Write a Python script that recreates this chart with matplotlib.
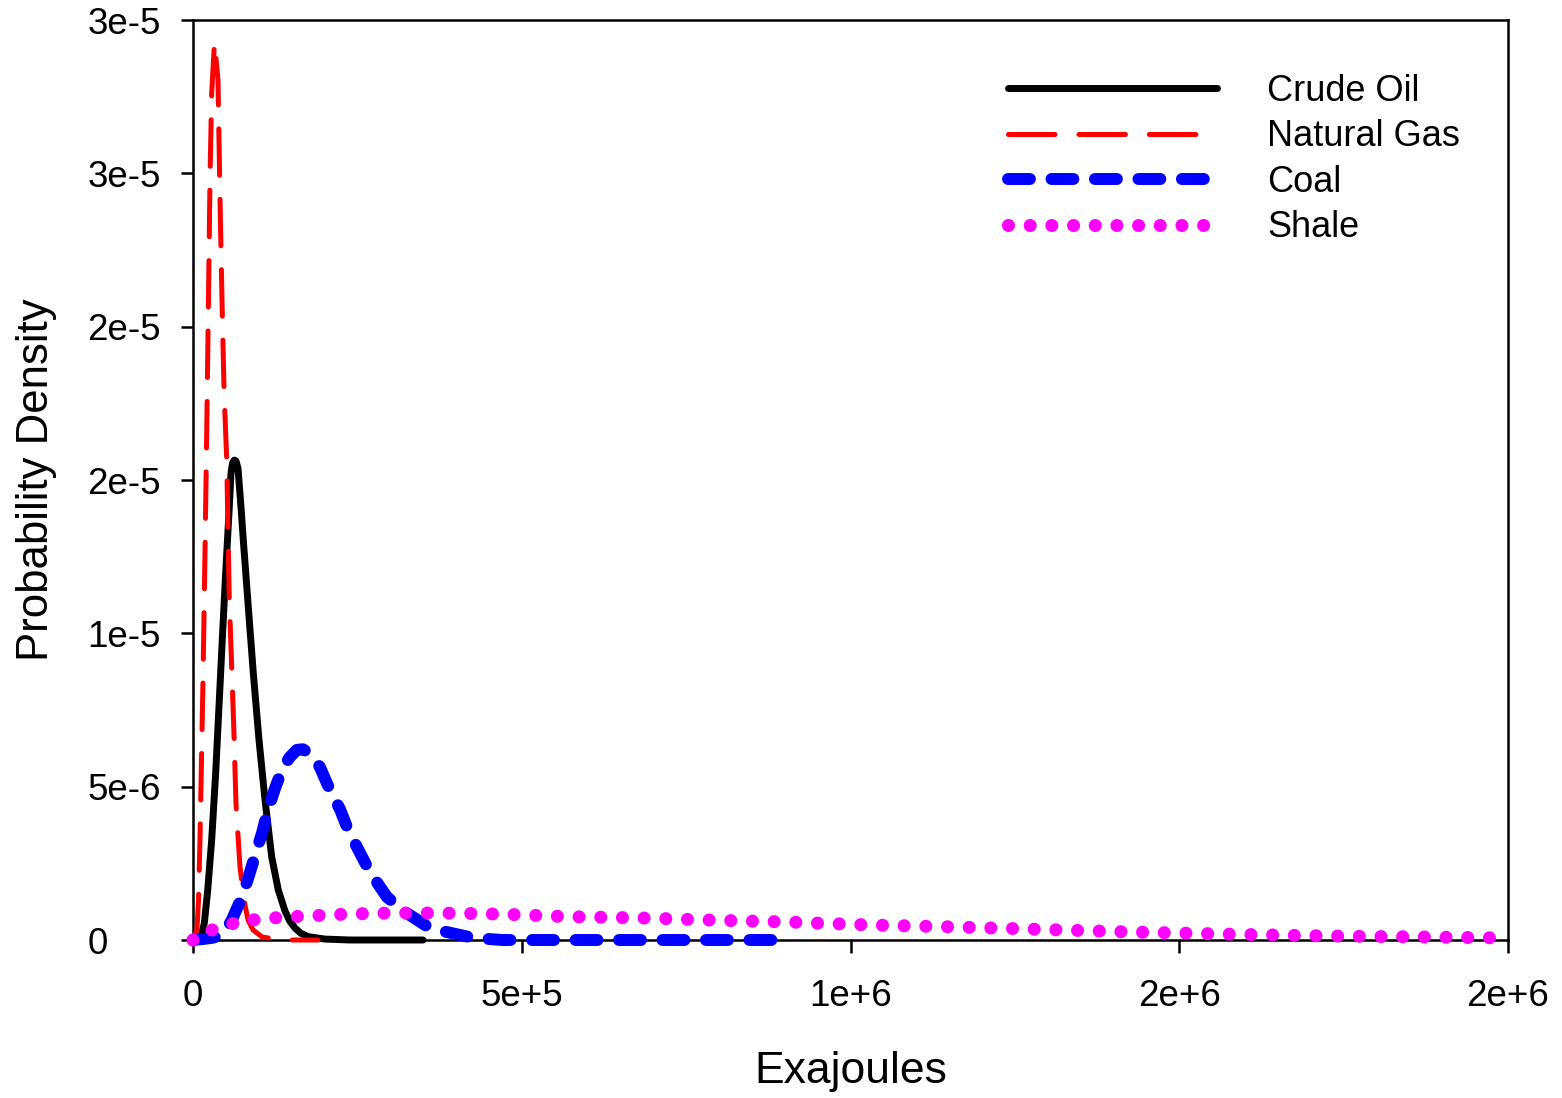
import numpy as np
import matplotlib
matplotlib.use("Agg")
import matplotlib.pyplot as plt

plt.rcParams["font.family"] = ["Liberation Sans", "DejaVu Sans"]
plt.rcParams["lines.scale_dashes"] = False

# Probability density curves (x in exajoules)
oil_x = [0, 7600, 12200, 17200, 22400, 28400, 34500, 39500, 44500, 49700, 55200,
         57800, 60100, 62800, 65400, 68400, 73000, 76500, 84100, 91700, 100400,
         109500, 119700, 129700, 139900, 147000, 155100, 164000, 174900, 200700,
         238700, 350000]
oil_y = [0, 0.02e-6, 0.10e-6, 0.55e-6, 1.63e-6, 3.26e-6, 5.45e-6, 7.60e-6, 9.78e-6,
         1.197e-5, 1.412e-5, 1.523e-5, 1.555e-5, 1.565e-5, 1.562e-5, 1.539e-5,
         1.412e-5, 1.304e-5, 1.086e-5, 8.71e-6, 6.52e-6, 4.57e-6, 2.71e-6, 1.63e-6,
         0.95e-6, 0.62e-6, 0.39e-6, 0.22e-6, 0.11e-6, 0.03e-6, 0, 0]

gas_x = [0, 6000, 8400, 10600, 12900, 15200, 18300, 20500, 23300, 25900, 28400,
         32700, 38000, 41100, 44100, 47200, 51300, 53200, 55200, 58900, 62400,
         65400, 71500, 77600, 83700, 91300, 104900, 124700, 143000, 190000]
gas_y = [0, 0.33e-6, 1.30e-6, 3.26e-6, 5.87e-6, 8.48e-6, 1.272e-5, 1.598e-5,
         2.054e-5, 2.488e-5, 2.762e-5, 2.928e-5, 2.804e-5, 2.413e-5, 2.087e-5,
         1.793e-5, 1.565e-5, 1.337e-5, 1.109e-5, 8.87e-6, 6.68e-6, 4.43e-6,
         2.38e-6, 1.30e-6, 0.65e-6, 0.33e-6, 0.10e-6, 0.03e-6, 0, 0]

coal_x = [0, 14000, 29000, 41000, 50000, 59000, 74500, 85000, 96000, 105000,
          114000, 125000, 137000, 147500, 158000, 167000, 178000, 193000, 205000,
          224000, 236000, 254000, 269000, 295000, 325000, 360000, 386000, 426000,
          470000, 540000, 700000, 890000]
coal_y = [0, 0.03e-6, 0.07e-6, 0.13e-6, 0.33e-6, 0.65e-6, 1.40e-6, 2.09e-6,
          2.87e-6, 3.49e-6, 4.24e-6, 4.96e-6, 5.64e-6, 5.97e-6, 6.20e-6, 6.22e-6,
          6.08e-6, 5.64e-6, 5.05e-6, 4.24e-6, 3.59e-6, 2.84e-6, 2.22e-6, 1.40e-6,
          0.88e-6, 0.39e-6, 0.26e-6, 0.07e-6, 0, 0, 0, 0]

shale_x = [0, 20000, 40000, 70000, 100000, 140000, 170000, 240000, 300000, 370000,
           440000, 500000, 570000, 630000, 700000, 770000, 840000, 900000, 1030000,
           1170000, 1300000, 1430000, 1600000, 1730000, 1870000, 2000000]
shale_y = [0, 2.5e-7, 4.2e-7, 5.9e-7, 6.8e-7, 7.5e-7, 7.8e-7, 8.5e-7, 8.8e-7,
           8.8e-7, 8.6e-7, 8.2e-7, 7.6e-7, 7.4e-7, 7.1e-7, 6.6e-7, 6.2e-7, 5.9e-7,
           4.9e-7, 4.2e-7, 3.4e-7, 2.6e-7, 1.8e-7, 1.3e-7, 1.0e-7, 0.65e-7]

x_ticks = [0, 5e5, 1e6, 1.5e6, 2e6]
x_tick_labels = ["0", "5e+5", "1e+6", "2e+6", "2e+6"]
y_ticks = [0, 5e-6, 1e-5, 1.5e-5, 2e-5, 2.5e-5, 3e-5]
y_tick_labels = ["0", "5e-6", "1e-5", "2e-5", "2e-5", "3e-5", "3e-5"]

fig = plt.figure(figsize=(15.62, 10.98), dpi=100)
ax = fig.add_axes([193 / 1562, 1 - 940 / 1098, 1315 / 1562, 920 / 1098])

common = dict(clip_on=False, zorder=3)
ax.plot(oil_x, oil_y, color="black", lw=5.0, solid_capstyle="round",
        label="Crude Oil", **common)
ax.plot(gas_x, gas_y, color="red", lw=3.6, ls=(0, (33.5, 17.2)),
        dash_capstyle="round", label="Natural Gas", **common)
ax.plot(coal_x, coal_y, color="blue", lw=8.6, ls=(0, (15.8, 15.5)),
        dash_capstyle="round", label="Coal", **common)
ax.plot(shale_x, shale_y, color="magenta", lw=9.4, ls=(0, (0.01, 15.6)),
        dash_capstyle="round", label="Shale", **common)

ax.set_xlim(0, 2e6)
ax.set_ylim(0, 3e-5)
ax.set_xticks(x_ticks)
ax.set_xticklabels(x_tick_labels)
ax.set_yticks(y_ticks)
ax.set_yticklabels(y_tick_labels, ha="left")
ax.tick_params(direction="out", length=9, width=1.8, labelsize=26.5)
ax.tick_params(axis="x", pad=19)
ax.tick_params(axis="y", pad=67)

for sp in ax.spines.values():
    sp.set_linewidth(1.8)

ax.set_xlabel("Exajoules", fontsize=32, labelpad=27)
ax.set_ylabel("Probability Density", fontsize=31.5, labelpad=22)

ax.legend(loc="upper left", bbox_to_anchor=((1008 - 193) / 1315, (940 - 74) / 920),
          frameon=False, fontsize=26, handlelength=5.8, handletextpad=1.38,
          labelspacing=0.29, borderpad=0, borderaxespad=0)

fig.savefig("out.png", dpi=100)
